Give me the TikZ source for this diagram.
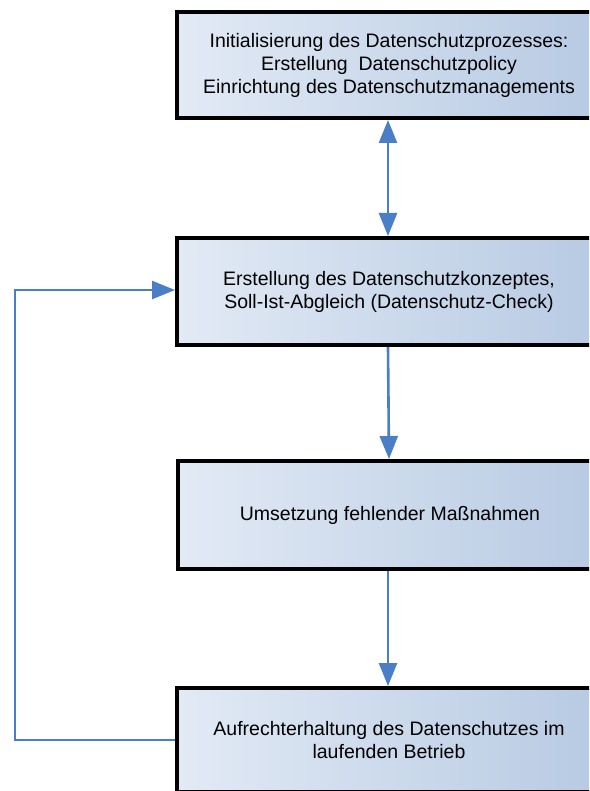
\documentclass[tikz,border=0pt]{standalone}
\usepackage{fontspec}
\setmainfont{Liberation Sans}
\usetikzlibrary{arrows.meta}
\definecolor{arrowblue}{HTML}{4A7EC7}
\definecolor{boxlight}{HTML}{E2EAF5}
\definecolor{boxdark}{HTML}{B7CAE3}
\tikzset{
  procbox/.style={draw=black, line width=4pt, left color=boxlight, right color=boxdark,
    minimum width=424pt, anchor=north west, align=center, inner sep=0pt,
    font=\fontsize{19.5}{23}\selectfont},
  flow/.style={draw=arrowblue, line width=2.6pt, -{Triangle[length=23pt,width=18pt]}},
  dflow/.style={draw=arrowblue, line width=2.6pt, {Triangle[length=23pt,width=18pt]}-{Triangle[length=23pt,width=18pt]}}
}
\begin{document}
\begin{tikzpicture}[x=1pt,y=-1pt]
\useasboundingbox (0,0) rectangle (589,791);
\clip (0,0) rectangle (589,791);
\node[procbox, minimum height=106pt] (b1) at (175,10)
  {Initialisierung des Datenschutzprozesses:\\Erstellung\ \ Datenschutzpolicy\\Einrichtung des Datenschutzmanagements};
\node[procbox, minimum height=107pt] (b2) at (175,236)
  {Erstellung des Datenschutzkonzeptes,\\Soll-Ist-Abgleich (Datenschutz-Check)};
\node[procbox, minimum height=108pt] (b3) at (176,459)
  {Umsetzung fehlender Maßnahmen};
\node[procbox, minimum height=104pt] (b4) at (175,686)
  {Aufrechterhaltung des Datenschutzes im\\laufenden Betrieb};
\coordinate (c1) at (15,740);
\coordinate (c2) at (15,290);
\draw[dflow] ([xshift=-1pt]b1.south) -- ([xshift=-1pt]b2.north);
\draw[flow] ([xshift=-1pt]b2.south) -- ([xshift=-1pt]b3.north);
\draw[flow] ([xshift=-2pt]b3.south) -- ([xshift=-1pt]b4.north);
\draw[flow] (b4.west |- c1) -- (c1) -- (c2) -- (b2.west |- c2);
\end{tikzpicture}
\end{document}
